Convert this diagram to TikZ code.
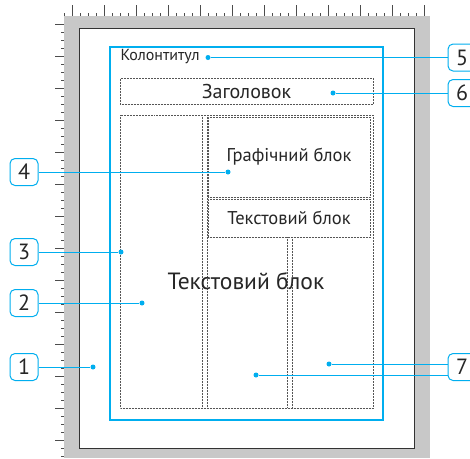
\documentclass[tikz,border=0pt]{standalone}
\usepackage{fontspec}
\setmainfont{PT Sans}
\usepackage{xcolor}
\usepackage{tikz}
\usetikzlibrary{positioning}

\definecolor{calloutcyan}{RGB}{0,174,239}
\definecolor{deskgray}{RGB}{200,200,200}
\definecolor{guidegray}{RGB}{85,85,85}

\begin{document}
\begin{tikzpicture}[
        x=1pt, y=-1pt,
        every node/.style={font=\fontsize{16}{18}\selectfont, text=black!85},
        callout/.style={rectangle, draw=calloutcyan, fill=white, rounded corners=5pt, line width=1pt, minimum width=28pt, minimum height=27pt, inner sep=0pt, font=\fontsize{22}{22}\selectfont},
        spot/.style={circle, fill=calloutcyan, inner sep=0pt, minimum size=5pt},
        leader/.style={draw=calloutcyan, line width=1pt},
        zone/.style={draw=guidegray, densely dotted, line width=0.5pt, inner sep=0pt},
        rulertick/.style={draw=black!70, line width=0.4pt}
    ]
        \clip (0,0) rectangle (470,458);

        \fill[white] (54,4) rectangle (430,16);
        \fill[white] (54,4) rectangle (64,458);
        \foreach \x in {64,72,...,428} \draw[rulertick] (\x,16) -- (\x,13);
        \foreach \x in {72,104,...,424} \draw[rulertick] (\x,16) -- (\x,5);
        \foreach \y in {24,32,...,456} \draw[rulertick] (64,\y) -- (61,\y);
        \foreach \y in {24,56,...,456} \draw[rulertick] (64,\y) -- (55,\y);
        \fill[deskgray] (64,16) rectangle (430,458);
        \draw[fill=white, draw=black!80, line width=1pt] (79,28) rectangle (414,448);
        \draw[calloutcyan, line width=1.2pt] (110,47) rectangle (383,420);

        \node[anchor=west] (footer) at (117,57) {Колонтитул};
        \node[zone, minimum width=253pt, minimum height=26pt, font=\fontsize{20}{22}\selectfont] (title) at (246.5,91) {Заголовок};
        \draw[zone] (120,115) rectangle (373,408);
        \draw[zone] (202,115) -- (202,408);
        \draw[zone] (207,115) -- (207,408);
        \node[zone, minimum width=162pt, minimum height=80pt, font=\fontsize{18.5}{20}\selectfont] (graphic) at (289,157) {Графічний блок};
        \node[zone, minimum width=162pt, minimum height=38pt, font=\fontsize{18.5}{20}\selectfont] (textsmall) at (289,218) {Текстовий блок};
        \draw[zone] (287,237) -- (287,408);
        \draw[zone] (292,237) -- (292,408);
        \node[font=\fontsize{23.5}{25}\selectfont] (textbig) at (246,281) {Текстовий блок};

        \node[spot] (pt1) at (93,367) {};
        \node[spot] (pt2) at (142,303) {};
        \node[spot] (pt3) at (121,252) {};
        \node[spot] (pt4) at (228,172) {};
        \node[spot] (pt5) at (208,57.5) {};
        \node[spot] (pt6) at (333,93) {};
        \node[spot] (pt7a) at (329,364) {};
        \node[spot] (pt7b) at (256,375) {};

        \node[callout] (num1) at (24,367) {1};
        \node[callout] (num2) at (24,303) {2};
        \node[callout] (num3) at (24,252) {3};
        \node[callout] (num4) at (24,172) {4};
        \node[callout] (num5) at (462,57.5) {5};
        \node[callout] (num6) at (462,93) {6};
        \node[callout] (num7) at (462,367) {7};

        \draw[leader] (num1) -- (pt1);
        \draw[leader] (num2) -- (pt2);
        \draw[leader] (num3) -- (pt3);
        \draw[leader] (num4) -- (pt4);
        \draw[leader] (num5) -- (pt5);
        \draw[leader] (num6) -- (pt6);
        \draw[leader] (pt7a) -- (pt7a -| num7.west);
        \draw[leader] (pt7b) -- (pt7b -| num7.west);
    \end{tikzpicture}
\end{document}
